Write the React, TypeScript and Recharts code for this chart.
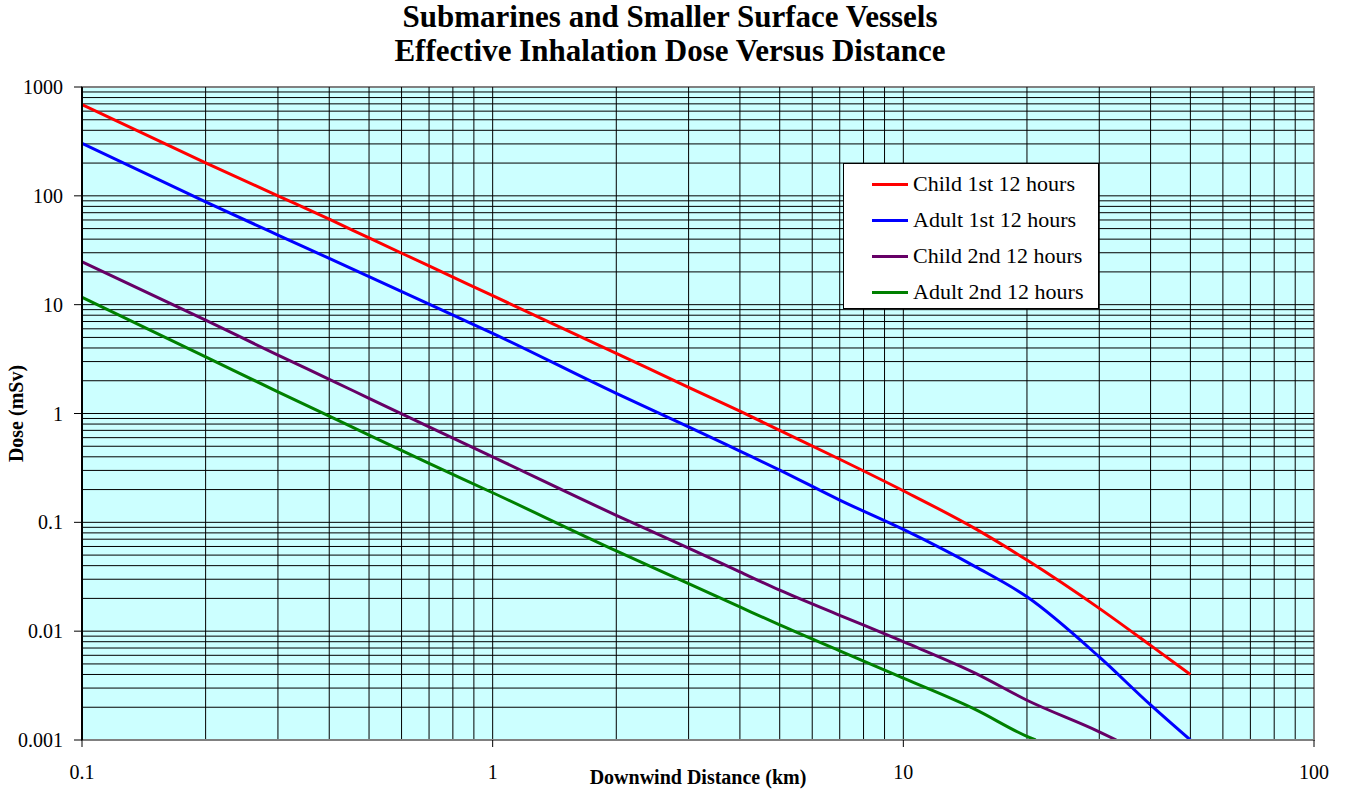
import React from "react";
import {
  LineChart,
  Line,
  XAxis,
  YAxis,
  CartesianGrid,
  Legend,
  ReferenceArea,
  ReferenceLine,
} from "recharts";

// 風下距離 (km)
const DISTANCE_KM = [0.1, 0.2, 0.3, 0.4, 0.5, 0.7, 1, 2, 3, 4, 5, 7, 10, 15, 20, 21, 30, 33, 40, 50];

// 実効吸入線量 (mSv)。null はその距離で値なし
const CHILD_FIRST_12H = [690, 201, 100, 61, 41, 22.7, 12.1, 3.57, 1.74, 1.05, 0.7, 0.38, 0.195, 0.087, 0.045, null, 0.0162, null, 0.0074, 0.004];
const ADULT_FIRST_12H = [304, 88, 43.6, 26.6, 18.1, 10.1, 5.45, 1.53, 0.755, 0.451, 0.302, 0.16, 0.086, 0.039, 0.0207, null, 0.0058, null, 0.0021, 0.001];
const CHILD_SECOND_12H = [24.8, 7.2, 3.44, 2.06, 1.38, 0.755, 0.4, 0.116, 0.058, 0.035, 0.0238, 0.014, 0.008, 0.0041, 0.00232, null, 0.00119, 0.001, null, null];
const ADULT_SECOND_12H = [11.7, 3.32, 1.58, 0.946, 0.633, 0.348, 0.187, 0.0547, 0.0274, 0.0167, 0.0114, 0.0066, 0.0037, 0.0019, 0.00108, 0.001, null, null, null, null];

// 軸の目盛り
const X_TICKS = [0.1, 1, 10, 100];
const Y_TICKS = [0.001, 0.01, 0.1, 1, 10, 100, 1000];
// 対数グリッド用の倍率
const GRID_STEPS = [1, 2, 3, 4, 5, 6, 7, 8, 9];

const SERIES = [
  { key: "child1", name: "Child 1st 12 hours", values: CHILD_FIRST_12H, color: "#FF0000" },
  { key: "adult1", name: "Adult 1st 12 hours", values: ADULT_FIRST_12H, color: "#0000FF" },
  { key: "child2", name: "Child 2nd 12 hours", values: CHILD_SECOND_12H, color: "#660066" },
  { key: "adult2", name: "Adult 2nd 12 hours", values: ADULT_SECOND_12H, color: "#008000" },
];

const data = DISTANCE_KM.map((km, i) => {
  const row: Record<string, number | null> = { km };
  SERIES.forEach((s) => {
    row[s.key] = s.values[i];
  });
  return row;
});

/** 目盛りの各桁に 1〜9 倍の線を入れる（両端は枠線があるので除く） */
const logGrid = (ticks: number[]) => {
  const out: number[] = [];
  ticks.slice(0, -1).forEach((t) => GRID_STEPS.forEach((m) => out.push(+(t * m).toPrecision(6))));
  return out.slice(1);
};
const X_GRID = logGrid(X_TICKS);
const Y_GRID = logGrid(Y_TICKS);

const FONT = "'Liberation Serif', 'Times New Roman', serif";

// 凡例は系列の定義順で並べる
const LegendBox = () => (
  <div
    style={{
      background: "#fff",
      border: "1px solid #000",
      boxSizing: "border-box",
      width: 256,
      height: 146,
      padding: "2px 0 0 28px",
      fontFamily: FONT,
      fontSize: 22,
      color: "#000",
    }}
  >
    {SERIES.map((s) => (
      <div key={s.key} style={{ display: "flex", alignItems: "center", height: 36, whiteSpace: "nowrap" }}>
        <span style={{ display: "inline-block", width: 36, height: 3, background: s.color, marginRight: 5 }} />
        <span>{s.name}</span>
      </div>
    ))}
  </div>
);

export default function App() {
  return (
    <div style={{ position: "absolute", left: 0, top: 0, width: 1345, height: 791, background: "#fff" }}>
      <div
        style={{
          position: "absolute",
          left: 0,
          top: 0,
          width: 1340,
          textAlign: "center",
          fontFamily: FONT,
          fontWeight: 700,
          fontSize: 31,
          lineHeight: "34px",
          color: "#000",
        }}
      >
        Submarines and Smaller Surface Vessels
        <br />
        Effective Inhalation Dose Versus Distance
      </div>
      <LineChart
        width={1345}
        height={791}
        data={data}
        margin={{ top: 87, right: 31, bottom: 0, left: 0 }}
        style={{ fontFamily: FONT }}
      >
        <CartesianGrid fill="#CCFFFF" horizontal={false} vertical={false} />
        <XAxis
          dataKey="km"
          type="number"
          scale="log"
          domain={[0.1, 100]}
          ticks={X_TICKS}
          allowDataOverflow
          height={51}
          tick={{ fontSize: 20, fill: "#000" }}
          tickSize={7}
          tickMargin={18}
          tickLine={{ stroke: "#000" }}
          axisLine={{ stroke: "#808080", strokeWidth: 2 }}
          label={{
            value: "Downwind Distance (km)",
            position: "insideBottom",
            offset: 7,
            style: { fontSize: 20, fontWeight: 700, fill: "#000" },
          }}
        />
        <YAxis
          type="number"
          scale="log"
          domain={[0.001, 1000]}
          ticks={Y_TICKS}
          allowDataOverflow
          width={82}
          tick={{ fontSize: 20, fill: "#000" }}
          tickSize={8}
          tickMargin={11}
          tickLine={{ stroke: "#000" }}
          axisLine={{ stroke: "#000", strokeWidth: 2 }}
          label={{
            value: "Dose (mSv)",
            angle: -90,
            position: "insideLeft",
            offset: 16,
            style: { fontSize: 20, fontWeight: 700, fill: "#000", textAnchor: "middle" },
          }}
        />
        {/* 対数グリッド線 */}
        {X_GRID.map((v) => (
          <ReferenceLine key={`x${v}`} x={v} stroke="#000" strokeWidth={1} />
        ))}
        {Y_GRID.map((v) => (
          <ReferenceLine key={`y${v}`} y={v} stroke="#000" strokeWidth={1} />
        ))}
        {/* プロット枠 */}
        <ReferenceArea
          x1={0.1}
          x2={100}
          y1={0.001}
          y2={1000}
          fill="none"
          fillOpacity={0}
          stroke="#808080"
          strokeWidth={2}
        />
        {SERIES.map((s) => (
          <Line
            key={s.key}
            dataKey={s.key}
            name={s.name}
            type="monotone"
            stroke={s.color}
            strokeWidth={3}
            dot={false}
            connectNulls
            isAnimationActive={false}
          />
        ))}
        <Legend
          layout="horizontal"
          verticalAlign="middle"
          content={<LegendBox />}
          wrapperStyle={{ left: 843, top: 163, width: 256, height: 146 }}
        />
      </LineChart>
    </div>
  );
}
